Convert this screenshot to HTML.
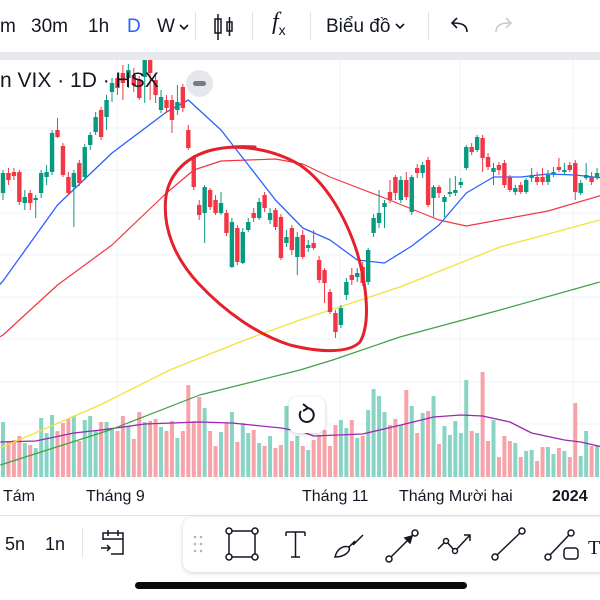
<!DOCTYPE html>
<html><head><meta charset="utf-8">
<style>
html,body{margin:0;padding:0;background:#fff;width:600px;height:600px;overflow:hidden;font-family:"Liberation Sans","Noto Sans CJK SC",sans-serif;color:#131722}
#wrap{position:relative;width:600px;height:600px}
svg{position:absolute;left:0;top:0}
.tb{position:absolute;left:0;top:0;width:600px;height:52px;background:#fff}
.band{position:absolute;left:0;top:52px;width:600px;height:8px;background:#e8e9ed}
.t{position:absolute;font-size:19px;line-height:20px}
.sep{position:absolute;width:1px;background:#e0e3eb}
.ax{position:absolute;top:487px;font-size:16px;line-height:20px}
</style></head><body>
<div id="wrap">
<svg id="chart" width="600" height="600"></svg>

<div class="tb">
  <div class="t" style="left:0;top:17px">m</div>
  <div class="t" style="left:31px;top:17px">30m</div>
  <div class="t" style="left:88px;top:17px">1h</div>
  <div class="t" style="left:127px;top:17px;color:#2962ff">D</div>
  <div class="t" style="left:157px;top:17px">W</div>
  <svg style="left:178px;top:23px" width="12" height="8"><path d="M2 2 L6 6 L10 2" fill="none" stroke="#131722" stroke-width="1.6"/></svg>
  <div class="sep" style="left:195px;top:12px;height:28px"></div>
  <svg style="left:212px;top:12px" width="24" height="30"><rect x="3" y="7" width="6" height="14" fill="none" stroke="#131722" stroke-width="1.5"/><line x1="6" y1="2" x2="6" y2="28" stroke="#131722" stroke-width="1.5"/><rect x="15" y="10" width="5" height="9" fill="none" stroke="#131722" stroke-width="1.5"/><line x1="17.5" y1="5" x2="17.5" y2="24" stroke="#131722" stroke-width="1.5"/></svg>
  <div class="sep" style="left:252px;top:12px;height:28px"></div>
  <div class="t" style="left:272px;top:12px;font-size:24px;font-family:'Liberation Serif',serif;font-style:italic">f<span style="font-size:14px;font-style:normal;font-family:'Liberation Sans';position:relative;top:6px">x</span></div>
  <div class="sep" style="left:310px;top:12px;height:28px"></div>
  <div class="t" style="left:326px;top:17px">Biểu đồ</div>
  <svg style="left:394px;top:22px" width="12" height="8"><path d="M2 2 L6 6 L10 2" fill="none" stroke="#131722" stroke-width="1.6"/></svg>
  <div class="sep" style="left:428px;top:12px;height:28px"></div>
  <svg style="left:448px;top:16px" width="24" height="20"><path d="M19 16 C19 9 14 7 5 7 M9 2 L4 7 L9 12" fill="none" stroke="#131722" stroke-width="1.6"/></svg>
  <svg style="left:492px;top:16px" width="24" height="20"><path d="M4 16 C4 9 9 7 18 7 M14 2 L19 7 L14 12" fill="none" stroke="#c9ccd3" stroke-width="1.6"/></svg>
</div>
<div class="band"></div>

<div style="position:absolute;left:0;top:69px;font-size:21px;line-height:24px">n VIX · 1D · HSX</div>
<div style="position:absolute;left:186px;top:70px;width:27px;height:27px;border-radius:50%;background:#e6e7ea"><div style="position:absolute;left:7px;top:11px;width:13px;height:5px;border-radius:3px;background:#787b86"></div></div>

<div style="position:absolute;left:289px;top:397px;width:36px;height:36px;border-radius:8px;background:#fff;box-shadow:0 1px 4px rgba(0,0,0,.2)">
<svg width="36" height="36"><path d="M12 14 A7 7 0 1 0 18 11" fill="none" stroke="#131722" stroke-width="2"/><path d="M14 7 L19 11 L14 14" fill="none" stroke="#131722" stroke-width="2"/></svg></div>

<div class="ax" style="left:3px">Tám</div>
<div class="ax" style="left:86px">Tháng 9</div>
<div class="ax" style="left:302px">Tháng 11</div>
<div class="ax" style="left:399px">Tháng Mười hai</div>
<div class="ax" style="left:552px;font-weight:bold">2024</div>

<div style="position:absolute;left:0;top:515px;width:600px;height:1px;background:#e0e3eb"></div>
<div class="t" style="left:5px;top:534px;font-size:18px">5n</div>
<div class="t" style="left:45px;top:534px;font-size:18px">1n</div>
<div class="sep" style="left:82px;top:528px;height:30px"></div>
<svg style="position:absolute;left:99px;top:528px" width="28" height="30"><path d="M4 12 V5 H24 V26 H12 M4 11 H24 M9 2 V8 M19 2 V8 M2 20 H11 M8 17 L11 20 L8 23" fill="none" stroke="#131722" stroke-width="1.5"/></svg>

<div style="position:absolute;left:183px;top:517px;width:430px;height:55px;border-radius:10px;background:#fff;box-shadow:0 1px 5px rgba(0,0,0,.18)">
 <svg width="430" height="55">
  <g fill="#b2b5be"><circle cx="12" cy="20" r="1.3"/><circle cx="18" cy="20" r="1.3"/><circle cx="12" cy="27" r="1.3"/><circle cx="18" cy="27" r="1.3"/><circle cx="12" cy="34" r="1.3"/><circle cx="18" cy="34" r="1.3"/></g>
  <g fill="#fff" stroke="#131722" stroke-width="1.5">
   <g><rect x="46" y="14" width="26" height="26"/><circle cx="46" cy="14" r="3"/><circle cx="72" cy="14" r="3"/><circle cx="46" cy="40" r="3"/><circle cx="72" cy="40" r="3"/></g>
   <g><path d="M103 15 H122 M112.5 15 V40 M108 40 H117 M103 15 V19 M122 15 V19" fill="none"/></g>
   <g><path d="M152 40 C154 32 160 28 166 30 C168 34 162 40 152 40 Z M166 30 L172 24 M170 28 L180 18" fill="none"/></g>
   <g><line x1="208" y1="40" x2="230" y2="18"/><circle cx="206" cy="42" r="3"/><circle cx="232" cy="16" r="3"/><path d="M222 21 L229 19 L227 26 Z" fill="#131722"/></g>
   <g><path d="M255 32 L263 24 L272 34 L287 18 M281 18 H287 V24" fill="none"/><circle cx="263" cy="24" r="2.5"/><circle cx="272" cy="34" r="2.5"/></g>
   <g><line x1="314" y1="38" x2="337" y2="16"/><circle cx="312" cy="40" r="3"/><circle cx="339" cy="14" r="3"/></g>
   <g><line x1="367" y1="38" x2="386" y2="18"/><circle cx="365" cy="40" r="3"/><circle cx="388" cy="16" r="3"/><rect x="381" y="31" width="14" height="11" rx="3"/></g>
  </g>
  <text x="405" y="37" font-size="20" font-family="Liberation Serif" fill="#131722">T</text>
 </svg>
</div>
<div style="position:absolute;left:135px;top:582px;width:332px;height:7px;border-radius:4px;background:#0a0a0a"></div>
</div>

<script>
const opens=[30.7,32.7,32.8,32.8,29.7,30.7,30.0,30.7,32.3,32.8,37.0,35.4,32.3,31.3,33.7,32.3,35.5,36.8,39.0,38.3,40.8,42.2,42.7,42.2,42.5,42.0,42.3,44.0,42.0,39.0,40.0,40.0,39.0,41.3,37.0,34.2,29.5,28.7,31.0,30.0,28.7,28.7,23.3,27.2,23.7,27.0,28.7,28.2,30.5,28.0,29.0,28.3,25.7,27.2,24.3,26.5,25.2,25.7,24.0,23.0,20.8,18.7,17.5,20.5,22.5,22.3,23.3,21.8,26.7,27.7,29.3,30.8,32.3,30.0,32.0,28.8,33.2,32.7,34.0,30.2,31.3,29.8,30.6,30.7,31.5,33.2,35.3,35.0,36.2,34.3,32.8,33.5,33.7,32.3,30.8,31.5,30.8,32.2,32.3,32.3,31.8,32.6,33.3,32.8,33.5,33.7,30.7,32.2,32.3,32.3];
const closes=[32.7,32.0,32.4,29.8,30.3,29.7,30.2,32.7,32.8,36.7,36.3,32.5,30.7,32.7,31.7,35.3,36.5,38.3,36.3,40.0,41.7,41.2,41.7,43.0,41.5,40.2,44.0,42.7,40.5,40.3,39.2,38.0,39.8,39.2,35.2,31.3,28.5,31.3,29.3,28.7,29.7,26.7,27.8,23.8,26.8,27.8,28.2,29.8,29.2,28.7,27.3,24.2,26.3,25.0,26.3,24.3,25.5,25.2,22.0,21.7,18.8,16.8,19.2,21.8,22.0,22.7,21.7,25.0,28.2,28.7,29.7,30.0,30.7,32.0,30.3,32.3,32.7,33.5,29.5,31.3,30.7,30.3,30.8,31.0,31.8,35.3,34.8,36.3,34.2,33.3,33.2,33.0,31.5,31.0,31.2,30.8,32.0,32.5,31.8,31.8,32.5,32.8,33.0,33.0,33.0,30.8,31.7,32.5,31.8,32.7];
const highs=[33.0,33.2,33.2,33.0,31.0,31.0,30.5,33.0,33.5,37.0,38.2,35.7,32.8,33.0,34.0,35.6,36.8,38.8,39.3,40.5,42.2,42.6,43.5,43.6,43.2,42.4,44.2,44.2,42.5,41.0,40.5,40.5,41.5,41.6,37.5,34.5,30.0,31.5,31.2,30.5,30.8,29.0,28.2,27.5,27.2,28.2,29.2,30.2,30.8,29.2,29.2,28.6,27.0,27.5,26.8,27.0,26.0,27.0,24.4,23.2,21.1,19.0,19.5,22.2,23.2,23.2,23.8,25.2,28.6,31.0,30.0,32.0,32.5,32.4,32.8,32.5,33.6,33.8,34.3,31.5,31.5,30.5,32.2,32.4,32.2,35.5,35.7,36.5,36.5,34.7,33.7,33.8,34.0,32.5,31.5,31.8,32.2,33.2,32.8,33.2,33.0,33.3,34.2,33.7,33.8,34.0,32.0,33.7,32.8,33.2];
const lows=[30.0,31.5,32.0,29.5,29.0,29.0,28.2,30.2,31.5,32.5,36.2,32.3,30.5,27.3,31.4,32.0,35.0,36.5,36.0,37.0,39.8,40.5,40.0,41.2,40.8,40.0,39.7,40.0,39.7,38.7,38.7,36.7,38.5,38.8,35.0,31.0,28.0,25.7,29.0,28.5,28.5,26.4,23.2,23.5,23.6,26.8,27.8,28.0,28.8,27.6,27.0,24.0,25.3,24.5,22.5,24.1,24.8,25.0,21.7,19.7,18.6,16.2,17.2,20.0,21.5,21.8,21.4,21.5,26.3,27.2,27.2,29.7,30.0,29.7,30.0,28.5,32.2,32.2,29.3,28.3,30.2,28.3,30.3,30.4,31.2,33.0,34.5,34.8,32.8,33.0,31.5,32.5,31.2,30.8,30.5,30.6,30.6,31.8,31.5,31.5,31.5,32.3,32.8,32.5,32.8,30.0,30.5,32.0,31.5,32.0];
const volumes=[55,36,37,41,34,32,29,59,44,62,46,54,58,61,36,57,61,46,55,55,49,46,61,51,38,65,55,56,58,50,46,56,39,46,92,56,80,69,46,31,45,54,65,35,54,44,47,34,31,41,29,32,71,36,41,31,27,37,42,47,31,52,57,49,57,39,41,67,88,81,65,52,58,52,87,71,44,64,66,81,33,51,42,56,44,97,46,44,105,36,57,20,41,36,34,20,26,27,16,30,30,23,29,26,20,74,21,46,31,31];
const ma20Idx=[-1,0,10,20,30,34,40,45,50,55,60,65,70,75,80,85,90,95,100,105,110];
const ma20Val=[21.3,21.9,29.5,34.7,38.8,40.0,37.0,33.5,30.0,27.2,26.0,24.0,23.7,25.4,27.5,30.7,32.3,32.3,32.6,32.5,32.2];
const ma50Idx=[-1,0,10,20,30,35,40,50,55,60,70,80,85,90,100,110];
const ma50Val=[16.2,16.5,21.5,25.5,30.7,33.0,33.9,34.1,33.6,32.3,30.2,28.0,27.4,27.9,28.9,30.5];
const ma100Idx=[-0.5,17.8,30.6,44.4,54.5,72.8,91.2,109.5];
const ma100Val=[5.2,9.5,13.0,16.0,18.0,21.3,25.3,28.0];
const ma200Idx=[-0.5,19.6,36.1,54.5,60.5,72.8,91.2,109.5];
const ma200Val=[3.5,7.0,10.5,13.0,14.0,16.3,19.0,21.8];
const volMaIdx=[-0.5,6,13,18,26,36,42,51,55,57,66,73,79,84,88,93,97,103,106,110];
const volMaVal=[35,36,44,47,53,55,54,49,45,41,43,52,60,62,61,55,44,37,35,30];

const NS='http://www.w3.org/2000/svg';
const svg=document.getElementById('chart');
const xS=i=>3+i*5.45;
const yS=p=>(50-p)*10;
const vS=v=>477-v;
function mk(tag,attrs,parent){const e=document.createElementNS(NS,tag);for(const k in attrs)e.setAttribute(k,attrs[k]);(parent||svg).appendChild(e);return e;}

const grid=mk('g',{stroke:'#f0f3fa','stroke-width':1});


[128,170,213,255,297,339,382,424,466].forEach(y=>mk('line',{x1:0,x2:600,y1:y,y2:y},grid));
[117,340,460,573].forEach(x=>mk('line',{x1:x,x2:x,y1:60,y2:477},grid));

const vg=mk('g',{});


volumes.forEach((v,i)=>{
  const up=closes[i]>=opens[i];
  const r=mk('rect',{x:xS(i)-2,y:vS(v),width:4,height:v,fill:up?'#8ad4c5':'#f7a3aa'},vg);
  
  
});
function line(idx,val,scale,color,w,name){
  const d=idx.map((t,k)=>(k?'L':'M')+xS(t).toFixed(1)+' '+scale(val[k]).toFixed(1)).join(' ');
  const p=mk('path',{d:d,fill:'none',stroke:color,'stroke-width':w,'stroke-linejoin':'round'});
  
  
}
line(volMaIdx,volMaVal,vS,'#9c27b0',1.3,'volume-ma-line');
line(ma200Idx,ma200Val,yS,'#43a047',1.2,'ma200-line');
line(ma100Idx,ma100Val,yS,'#f2e33a',1.3,'ma100-line');
line(ma50Idx,ma50Val,yS,'#f23645',1.2,'ma50-line');
line(ma20Idx,ma20Val,yS,'#2962ff',1.3,'ma20-line');

const cg=mk('g',{});


opens.forEach((o,i)=>{
  const c=closes[i],up=c>=o,col=up?'#089981':'#f23645',x=xS(i);
  const g=mk('g',{},cg);
  
  
  mk('line',{x1:x,x2:x,y1:yS(highs[i]),y2:yS(lows[i]),stroke:col,'stroke-width':1},g);
  const top=yS(Math.max(o,c)),bot=yS(Math.min(o,c));
  mk('rect',{x:x-2.2,y:top,width:4.4,height:Math.max(1,bot-top),fill:col},g);
});

const circ=mk('path',{d:'M212 150 C240 143 275 150 300 165 C325 182 345 215 357 252 C368 290 370 325 360 342 C348 354 318 352 290 345 C258 335 225 312 198 283 C175 258 162 228 166 196 C170 172 188 156 212 150 M205 152 C220 147 240 146 255 147',fill:'none',stroke:'#e3222c','stroke-width':3,'stroke-linecap':'round'});


</script>
</body></html>
